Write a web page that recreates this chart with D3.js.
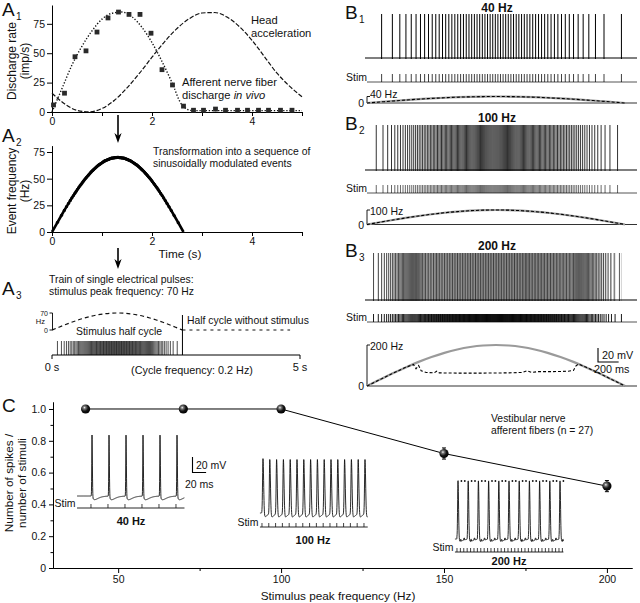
<!DOCTYPE html>
<html><head><meta charset="utf-8">
<script src="https://cdn.jsdelivr.net/npm/d3@7/dist/d3.min.js"></script>
<style>
html,body{margin:0;padding:0;background:#fff;}
svg{display:block;}
</style></head>
<body>
<svg id="fig" width="640" height="603" xmlns="http://www.w3.org/2000/svg"></svg>
<script>
// ================= DATA =================
const a1SquareTime = [0.03,0.25,0.46,0.68,0.90,1.12,1.33,1.54,1.76,1.98,2.20,2.41,2.63,2.83,3.03,3.27,3.47,3.71,3.91,4.13,4.33,4.57,4.80];
const a1SquareRate = [6,16,47,52,68,80,85,83,83,67,36,23,5,1.5,1.5,2.5,1.5,1.5,1.5,1.5,1.5,1.5,1.5];
const a1FitTime = [0,0.2,0.4,0.6,0.8,1.0,1.2,1.4,1.6,1.8,2.0,2.2,2.4,2.6,2.8,3.0,4.0,5.0];
const a1FitRate = [0,20,40,56,69,79,84,85,81,72,59,43,25,6,1.2,1.2,1.2,1.2];
const a1HeadTime = [0,0.25,0.5,0.75,1.0,1.25,1.5,1.75,2.0,2.25,2.5,2.75,3.0,3.25,3.5,3.75,4.0,4.25,4.5,4.75,5.0];
const a1HeadRate = [16,7,1.4,0.1,3,10,20.5,33,46.6,59.7,71,79.5,84.2,84.6,80.8,72.5,61,47,33,22,13];
const aYTicks = [0,25,50,75];
const aXTicks = [0,1,2,3,4,5];

const envFrac  = [0,0.05,0.1,0.15,0.2,0.25,0.3,0.35,0.4,0.45,0.5,0.55,0.6,0.65,0.7,0.75,0.8,0.85,0.9,0.95,1];
const envShape = [0,0.156,0.309,0.454,0.588,0.707,0.809,0.891,0.951,0.988,1,0.988,0.951,0.891,0.809,0.707,0.588,0.454,0.309,0.156,0];
const stimPeakA = 70;
const stimHalfCycleA = 2.63;
const cycleA = 5;

const bPeaks = [40,100,200];
const bTitles = ["40 Hz","100 Hz","200 Hz"];
const bHalfCycle = 2.5;
const b3RespFrac = [0,0.05,0.10,0.15,0.18,0.19,0.20,0.21,0.23,0.26,0.27,0.28,0.35,0.45,0.55,0.60,0.62,0.64,0.66,0.72,0.78,0.80,0.81,0.82,0.85,0.90,0.95,1.0];
const b3RespHz   = [0,31,62,91,105,84,100,74,66,64,72,64,63,63,64,66,74,66,70,70,72,76,98,107,91,62,31,0];

const cFreq  = [40,70,100,150,200];
const cRatio = [1,1,1,0.72,0.515];
const cErr   = [0,0,0,0.035,0.035];
const cYTicks = [0,0.2,0.4,0.6,0.8,1.0];
const cYMinor = [0.1,0.3,0.5,0.7,0.9];
const cXTicks = [50,100,150,200];
const cXMinor = [75,125,175];

const ins40Spk  = [0,25,50,75,100,125];
const ins40Stim = [-1.5,23.5,48.5,73.5,98.5,123.5];
const ins100Spk  = [0,10,20,30,40,50,60,70,80,90,100,110,120,130,140,150];
const ins100Stim = [-1.5,8.5,18.5,28.5,38.5,48.5,58.5,68.5,78.5,88.5,98.5,108.5,118.5,128.5,138.5,148.5];
const ins200Spk  = [0,15,30,45,60,75,90,105,120,135,150];
const ins200Stim = [-1.5,3.5,8.5,13.5,18.5,23.5,28.5,33.5,38.5,43.5,48.5,53.5,58.5,63.5,68.5,73.5,78.5,83.5,88.5,93.5,98.5,103.5,108.5,113.5,118.5,123.5,128.5,133.5,138.5,143.5,148.5,153.5];

// ================= HELPERS =================
const F = '"Liberation Sans", Arial, Helvetica, sans-serif';
const TICK = 10.5, TITLE = 11.8, NOTE = 10.4;
const svg = d3.select("#fig");
const defs = svg.append("defs");
const grad = defs.append("radialGradient").attr("id","ball").attr("cx","38%").attr("cy","35%").attr("r","65%");
grad.append("stop").attr("offset","0%").attr("stop-color","#f5f5f5");
grad.append("stop").attr("offset","22%").attr("stop-color","#7a7a7a");
grad.append("stop").attr("offset","60%").attr("stop-color","#151515");
grad.append("stop").attr("offset","100%").attr("stop-color","#000");

function tx(x,y,s,o={}){
  const t = svg.append("text").attr("x",x).attr("y",y)
    .style("font-family",F).style("font-size",(o.size||NOTE)+"px").attr("fill",o.fill||"#111");
  if(o.anchor) t.attr("text-anchor",o.anchor);
  if(o.weight) t.style("font-weight",o.weight);
  if(o.rot) t.attr("transform",`rotate(-90,${x},${y})`);
  if(o.html) t.html(s); else t.text(s);
  return t;
}
function letter(x,y,L,sub){
  tx(x,y,L,{size:19});
  if(sub) tx(x+14,y+4,sub,{size:10});
}
function styleAxis(g){
  g.selectAll("path").attr("stroke","#000").attr("stroke-width",1);
  g.selectAll("line").attr("stroke","#000").attr("stroke-width",1);
  g.selectAll("text").style("font-family",F).style("font-size",TICK+"px").attr("fill","#111");
}
function rateEvents(times, rates, dt){
  dt = dt || 0.0002;
  const f = d3.scaleLinear().domain(times).range(rates).clamp(true);
  let acc=0, next=0.5; const ev=[];
  const tEnd = times[times.length-1];
  for(let t=times[0]; t<=tEnd; t+=dt){
    acc += f(t)*dt;
    while(acc>=next){ ev.push(t); next+=1; }
  }
  return ev;
}
function arrow(x,y1,y2){
  svg.append("line").attr("x1",x).attr("x2",x).attr("y1",y1).attr("y2",y2-6).attr("stroke","#000").attr("stroke-width",1.6);
  svg.append("path").attr("d",`M${x-3.6},${y2-10} L${x},${y2} L${x+3.6},${y2-10} L${x},${y2-7} Z`).attr("fill","#000");
}

// ================= PANEL A1 =================
const xA = d3.scaleLinear([0,5],[52,302]);
const yA1 = d3.scaleLinear([0,91],[112,5]);
letter(2,16,"A","1");
svg.append("g").attr("transform","translate(52,0)")
  .call(d3.axisLeft(yA1).tickValues(aYTicks).tickSize(5).tickPadding(2).tickSizeOuter(0)).call(styleAxis);
svg.append("g").attr("transform","translate(0,112)")
  .call(d3.axisBottom(xA).tickValues(aXTicks).tickFormat(d=>d%2===0?d:"").tickSize(4).tickPadding(2).tickSizeOuter(0)).call(styleAxis);
tx(16,61,"Discharge rate",{size:12,anchor:"middle",rot:true});
tx(29,61,"(imp/s)",{size:12,anchor:"middle",rot:true});

const lineA1 = d3.line().x(d=>xA(d[0])).y(d=>yA1(d[1])).curve(d3.curveMonotoneX);
svg.append("path").attr("d",lineA1(a1HeadTime.map((t,i)=>[t,a1HeadRate[i]])))
  .attr("fill","none").attr("stroke","#111").attr("stroke-width",1.2).attr("stroke-dasharray","4.5,1.8");
svg.append("path").attr("d",lineA1(a1FitTime.map((t,i)=>[t,a1FitRate[i]])))
  .attr("fill","none").attr("stroke","#111").attr("stroke-width",1.4).attr("stroke-dasharray","1.3,1.8");
svg.selectAll(".sq").data(a1SquareTime).enter().append("rect")
  .attr("x",(d)=>xA(d)-2.4).attr("y",(d,i)=>yA1(a1SquareRate[i])-2.4).attr("width",4.8).attr("height",4.8).attr("fill","#2a2a2a");
tx(251,24,"Head",{size:11.2});
tx(251,37,"acceleration",{size:11.2});
tx(182,86,"Afferent nerve fiber",{size:11.2});
tx(182,99,'discharge <tspan font-style="italic">in vivo</tspan>',{size:11.2,html:true});

arrow(118,115,143);

// ================= PANEL A2 =================
const yA2 = d3.scaleLinear([0,81],[232,145.6]);
letter(2,142,"A","2");
svg.append("g").attr("transform","translate(52,0)")
  .call(d3.axisLeft(yA2).tickValues(aYTicks).tickSize(5).tickPadding(2).tickSizeOuter(0)).call(styleAxis);
svg.append("g").attr("transform","translate(0,232)")
  .call(d3.axisBottom(xA).tickValues(aXTicks).tickFormat(d=>d%2===0?d:"").tickSize(4).tickPadding(2).tickSizeOuter(0)).call(styleAxis);
tx(16,191,"Event frequency",{size:12,anchor:"middle",rot:true});
tx(29,191,"(Hz)",{size:12,anchor:"middle",rot:true});
tx(180,258,"Time (s)",{size:TITLE,anchor:"middle"});
tx(153,155,"Transformation into a sequence of",{size:NOTE});
tx(153,167,"sinusoidally modulated events",{size:NOTE});

const envTimesA = envFrac.map(f=>f*stimHalfCycleA);
const envRatesA = envShape.map(s=>s*stimPeakA);
const evA = rateEvents(envTimesA, envRatesA);
const rateA = d3.scaleLinear().domain(envTimesA).range(envRatesA);
const a2pts = [[0,0]].concat(evA.map(t=>[t,rateA(t)])).concat([[stimHalfCycleA,0]]);
svg.append("path").attr("d",d3.line().x(d=>xA(d[0])).y(d=>yA2(d[1]))(a2pts))
  .attr("fill","none").attr("stroke","#000").attr("stroke-width",2.6);
svg.selectAll(".a2p").data(evA).enter().append("circle")
  .attr("cx",d=>xA(d)).attr("cy",d=>yA2(rateA(d))).attr("r",1.6).attr("fill","#000");

arrow(118,248,269);

// ================= PANEL A3 =================
letter(2,295,"A","3");
tx(49,283,"Train of single electrical pulses:",{size:NOTE});
tx(49,295,"stimulus peak frequency: 70 Hz",{size:NOTE});
const xA3 = d3.scaleLinear([0,cycleA],[52,300]);
const yA3 = d3.scaleLinear([0,70],[330,313]);
svg.append("path").attr("d",`M49.5,${yA3(70)} H52.5 V${yA3(0)} H49.5`).attr("fill","none").attr("stroke","#000").attr("stroke-width",0.9);
tx(48,316,"70",{size:7,anchor:"end"});
tx(45,324,"Hz",{size:7.5,anchor:"end"});
tx(48,332.5,"0",{size:7,anchor:"end"});
svg.append("path").attr("d",d3.line().x(d=>xA3(d[0])).y(d=>yA3(d[1])).curve(d3.curveMonotoneX)(envTimesA.map((t,i)=>[t,envRatesA[i]])))
  .attr("fill","none").attr("stroke","#111").attr("stroke-width",1.2).attr("stroke-dasharray","4,3");
svg.append("line").attr("x1",xA3(stimHalfCycleA)).attr("x2",xA3(4.8)).attr("y1",yA3(0)).attr("y2",yA3(0))
  .attr("stroke","#111").attr("stroke-width",1.1).attr("stroke-dasharray","3,4");
tx(187,324,"Half cycle without stimulus",{size:NOTE});
tx(76,335,"Stimulus half cycle",{size:NOTE});
svg.selectAll(".a3p").data(evA).enter().append("line")
  .attr("x1",d=>xA3(d)).attr("x2",d=>xA3(d)).attr("y1",341).attr("y2",355).attr("stroke","#000").attr("stroke-width",0.7);
svg.append("line").attr("x1",xA3(stimHalfCycleA)).attr("x2",xA3(stimHalfCycleA)).attr("y1",315).attr("y2",355).attr("stroke","#000").attr("stroke-width",1);
svg.append("path").attr("d",`M${xA3(0)},359 V355 H${xA3(cycleA)} V359`).attr("fill","none").attr("stroke","#000").attr("stroke-width",1);
tx(52,371,"0 s",{size:TICK+0.5,anchor:"middle"});
tx(300,371,"5 s",{size:TICK+0.5,anchor:"middle"});
tx(192,374,"(Cycle frequency: 0.2 Hz)",{size:10.8,anchor:"middle"});

// ================= PANEL B =================
const bx = d3.scaleLinear([0,1],[367,625]);
const bGeom = [
  {L:19,  title:12,  top:14,  base:58,  stim:82,  envTop:96.5, envBase:103},
  {L:130, title:122, top:125, base:170, stim:193, envTop:210,  envBase:224.5},
  {L:257, title:250, top:253, base:300, stim:322, envTop:345,  envBase:386}
];
bPeaks.forEach((pk,i)=>{
  const g = bGeom[i];
  letter(345,g.L,"B",String(i+1));
  tx(497,g.title,bTitles[i],{size:12,weight:"bold",anchor:"middle"});
  const tms = envFrac.map(f=>f*bHalfCycle);
  const stim = rateEvents(tms, envShape.map(s=>s*pk)).map(t=>t/bHalfCycle);
  const spikes = i<2 ? stim : rateEvents(b3RespFrac.map(f=>f*bHalfCycle), b3RespHz).map(t=>t/bHalfCycle);
  svg.append("line").attr("x1",365).attr("x2",637).attr("y1",g.base).attr("y2",g.base).attr("stroke","#000").attr("stroke-width",1.1);
  if(i===2){
    svg.append("path").attr("d",stim.map(f=>`M${bx(f).toFixed(2)},${g.base+1} V${g.top}`).join(""))
      .attr("stroke","#000").attr("stroke-width",0.5).attr("stroke-opacity",0.35);
  }
  svg.append("path").attr("d",spikes.map(f=>`M${bx(f).toFixed(2)},${g.base+1} V${g.top}`).join(""))
    .attr("stroke","#000").attr("stroke-width",i===0?1:(i===1?0.85:0.7)).attr("stroke-opacity",i===0?1:0.95).attr("fill","none");
  tx(346,g.stim-1,"Stim",{size:10.5});
  svg.append("line").attr("x1",367).attr("x2",637).attr("y1",g.stim).attr("y2",g.stim).attr("stroke","#555").attr("stroke-width",1);
  svg.append("path").attr("d",stim.map(f=>`M${bx(f).toFixed(2)},${g.stim} V${g.stim-8}`).join(""))
    .attr("stroke","#000").attr("stroke-width",i===0?1:(i===1?0.7:0.9)).attr("stroke-opacity",i===0?0.75:(i===1?0.85:1)).attr("fill","none");
  const ye = d3.scaleLinear([0,pk],[g.envBase,g.envTop]);
  svg.append("path").attr("d",`M${bx(0)+3},${g.envTop} H${bx(0)} V${g.envBase}`).attr("fill","none").attr("stroke","#000").attr("stroke-width",0.9);
  tx(364,g.envBase+4,"0",{size:10.5,anchor:"end"});
  tx(370,g.envTop+(i===0?1.5:4.5),bTitles[i],{size:10.5});
  svg.append("line").attr("x1",bx(0)).attr("x2",637).attr("y1",g.envBase).attr("y2",g.envBase).attr("stroke","#333").attr("stroke-width",1.1);
  const le = d3.line().x(d=>bx(d[0])).y(d=>ye(d[1])).curve(d3.curveMonotoneX);
  svg.append("path").attr("d",le(envFrac.map((f,k)=>[f,envShape[k]*pk])))
    .attr("fill","none").attr("stroke","#9a9a9a").attr("stroke-width",2.2);
  const resp = i<2 ? envFrac.map((f,k)=>[f,envShape[k]*pk]) : b3RespFrac.map((f,k)=>[f,b3RespHz[k]]);
  svg.append("path").attr("d",(i<2?le:d3.line().x(d=>bx(d[0])).y(d=>ye(d[1])))(resp))
    .attr("fill","none").attr("stroke","#000").attr("stroke-width",1.1).attr("stroke-dasharray","3,2");
});
const px200ms = bx(0.2/bHalfCycle)-bx(0);
svg.append("path").attr("d",`M598,348 V362 H${598+px200ms}`).attr("fill","none").attr("stroke","#000").attr("stroke-width",1.1);
tx(602,359,"20 mV",{size:10.8});
tx(594,373,"200 ms",{size:10.8});

// ================= PANEL C =================
letter(2,412,"C");
const xC = d3.scaleLinear([30,207.7],[53,632]);
const yC = d3.scaleLinear([0,1.044],[568,402]);
svg.append("g").attr("transform","translate(53,0)")
  .call(d3.axisLeft(yC).tickValues(cYTicks).tickFormat(d=>d===0?"0":d3.format(".1f")(d)).tickSize(4).tickPadding(3).tickSizeOuter(0)).call(styleAxis);
svg.append("g").attr("transform","translate(53,0)")
  .call(d3.axisLeft(yC).tickValues(cYMinor).tickFormat("").tickSize(2.5).tickSizeOuter(0)).call(styleAxis);
svg.append("g").attr("transform","translate(0,568)")
  .call(d3.axisBottom(xC).tickValues(cXTicks).tickSize(5).tickPadding(3).tickSizeOuter(0)).call(styleAxis);
svg.append("g").attr("transform","translate(0,568)")
  .call(d3.axisBottom(xC).tickValues(cXMinor).tickFormat("").tickSize(3).tickSizeOuter(0)).call(styleAxis);
tx(13,483,"Number of spikes /",{size:TITLE,anchor:"middle",rot:true});
tx(26,483,"number of stimuli",{size:TITLE,anchor:"middle",rot:true});
tx(338,600,"Stimulus peak frequency (Hz)",{size:TITLE,anchor:"middle"});
tx(491,422,"Vestibular nerve",{size:NOTE});
tx(491,434,"afferent fibers (n = 27)",{size:NOTE});

const msPx = 0.68;
function inset(c){
  const xs = t=>c.x0+t*msPx;
  const pts=[];
  for(let t=c.t0;t<=c.t1;t+=0.2){
    let v=0;
    for(const s of c.spk){
      const d=t-s;
      if(d>-5*c.w && d<8*c.w) v += d<0 ? Math.exp(-Math.pow(d/c.w,2)) : Math.exp(-Math.pow(d/(c.w*1.5),2));
      if(d>0 && d<60) v -= c.ahp*(d/c.tau)*Math.exp(1-d/c.tau);
    }
    if(c.art){ for(const s of c.stim){ const d=t-s; if(d>0&&d<1.2) v+=c.art; } }
    pts.push([t,v]);
  }
  svg.append("path").attr("d",d3.line().x(d=>xs(d[0])).y(d=>c.base-d[1]*(c.base-c.top))(pts))
    .attr("fill","none").attr("stroke","#111").attr("stroke-width",0.9);
  svg.append("line").attr("x1",xs(c.t0)).attr("x2",xs(c.t1)).attr("y1",c.stimY).attr("y2",c.stimY).attr("stroke","#111").attr("stroke-width",0.9);
  svg.append("path").attr("d",c.stim.map(s=>`M${xs(s).toFixed(2)},${c.stimY} V${c.stimY-4}`).join("")).attr("stroke","#111").attr("stroke-width",0.8);
  tx(xs(c.t0)-1.5,c.stimY-1,"Stim",{size:10.5,anchor:"end"});
  tx(c.lx,c.ly,c.label,{size:11,weight:"bold",anchor:"middle"});
  if(c.dots){
    const failed = c.stim.filter(s=>!c.spk.some(p=>Math.abs(p-s)<3));
    svg.selectAll(null).data(failed).enter().append("circle").attr("cx",s=>xs(s+1.5)).attr("cy",c.top+1).attr("r",0.9).attr("fill","#111");
  }
}
inset({x0:92,t0:-22,t1:136,spk:ins40Spk,stim:ins40Stim,base:496,top:435,w:0.5,ahp:0.06,tau:4,stimY:508,label:"40 Hz",lx:131,ly:525});
inset({x0:263,t0:-4.5,t1:154,spk:ins100Spk,stim:ins100Stim,base:513,top:458,w:0.9,ahp:0.07,tau:2.6,stimY:527,label:"100 Hz",lx:313,ly:544});
inset({x0:458,t0:-4.5,t1:155,spk:ins200Spk,stim:ins200Stim,base:539,top:480,w:0.75,ahp:0.04,tau:3,art:0.03,stimY:552,label:"200 Hz",lx:509,ly:565,dots:true});
svg.append("path").attr("d",`M192.5,457 V472.5 H${192.5+20*msPx}`).attr("fill","none").attr("stroke","#000").attr("stroke-width",1.1);
tx(196,469,"20 mV",{size:10.5});
tx(185,488,"20 ms",{size:10.5});

svg.append("path").attr("d",d3.line().x((d,i)=>xC(cFreq[i])).y((d,i)=>yC(cRatio[i]))(cFreq))
  .attr("fill","none").attr("stroke","#000").attr("stroke-width",1);
cFreq.forEach((f,i)=>{
  if(cErr[i]>0){
    const x=xC(f), y1=yC(cRatio[i]-cErr[i]), y2=yC(cRatio[i]+cErr[i]);
    svg.append("path").attr("d",`M${x},${y1} V${y2} M${x-2},${y1} H${x+2} M${x-2},${y2} H${x+2}`).attr("stroke","#000").attr("stroke-width",1);
  }
});
svg.selectAll(".ball").data(cFreq).enter().append("circle")
  .attr("cx",d=>xC(d)).attr("cy",(d,i)=>yC(cRatio[i])).attr("r",4.6).attr("fill","url(#ball)");
</script>
</body></html>
